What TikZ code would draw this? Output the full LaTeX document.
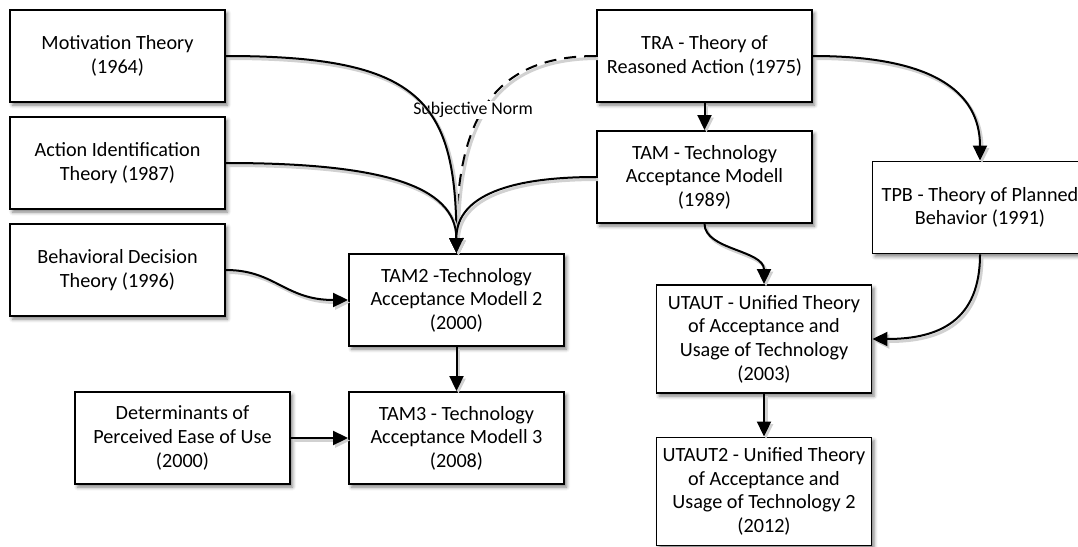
\documentclass[tikz,border=0pt]{standalone}
\usepackage{fontspec}
\setmainfont{Carlito}
\usetikzlibrary{arrows.meta,shadows.blur}
\begin{document}
\begin{tikzpicture}[x=1pt,y=-1pt,
  box/.style={draw=black, line width=1.9pt, fill=white,
    minimum width=215pt, minimum height=92pt, align=center, inner sep=2pt,
    font=\fontsize{20.2pt}{23.6pt}\selectfont,
    blur shadow={shadow xshift=2.5pt, shadow yshift=-3pt,
      shadow blur radius=3.5pt, shadow opacity=50}},
  tall/.style={minimum height=108pt},
  conn/.style={line width=2pt, -{Triangle[length=15pt,width=14pt]},
    preaction={draw=black!18, line width=3pt,
      transform canvas={shift={(2pt,-2.5pt)}}}},
  lbl/.style={fill=white, inner sep=1pt, font=\fontsize{17.8pt}{20pt}\selectfont},
]
\useasboundingbox (0,0) rectangle (1078,546);

% left column
\node[box] (mot) at (117.5,56)  {Motivation Theory\\(1964)};
\node[box] (aid) at (117.5,163) {Action Identification\\Theory (1987)};
\node[box] (bdt) at (117.5,270) {Behavioral Decision\\Theory (1996)};
\node[box] (det) at (182.5,438) {Determinants of\\Perceived Ease of Use\\(2000)};

% TAM2 / TAM3
\node[box] (tam2) at (456.5,300) {TAM2 -Technology\\Acceptance Modell 2\\(2000)};
\node[box] (tam3) at (456.5,438) {TAM3 - Technology\\Acceptance Modell 3\\(2008)};

% right part
\node[box] (tra) at (704.5,56)  {TRA - Theory of\\Reasoned Action (1975)};
\node[box] (tam) at (704.5,177) {TAM - Technology\\Acceptance Modell\\(1989)};
\node[box] (tpb) at (980,207.5) {TPB - Theory of Planned\\Behavior (1991)};
\node[box,tall] (utaut)  at (764,339)   {UTAUT - Unified Theory\\of Acceptance and\\Usage of Technology\\(2003)};
\node[box,tall] (utaut2) at (764,491.5) {UTAUT2 - Unified Theory\\of Acceptance and\\Usage of Technology 2\\(2012)};

% subjective norm link
\draw[conn, dash pattern=on 12pt off 8pt] (tra.west) .. controls (500,56) and (456,110) .. (tam2.north);
\node[lbl] (sn) at (473,110) {Subjective Norm};

% influences on TAM2
\draw[conn] (mot.east) .. controls (420,56) and (456,100) .. (tam2.north);
\draw[conn] (aid.east) .. controls (380,163) and (456,185) .. (tam2.north);
\draw[conn] (tam.west) .. controls (500,177) and (456,200) .. (tam2.north);
\draw[conn] (bdt.east) .. controls (275,270) and (285,300) .. (tam2.west);
\draw[conn] (tam2.south) -- (tam3.north);
\draw[conn] (det.east) -- (tam3.west);

% TRA line
\draw[conn] (tra.south) -- (tam.north);
\draw[conn] (tra.east) .. controls (930,56) and (980,90) .. (tpb.north);
\draw[conn] (tam.south) .. controls (705,250) and (764,250) .. (utaut.north);
\draw[conn] (tpb.south) .. controls (980,320) and (940,339) .. (utaut.east);
\draw[conn] (utaut.south) -- (utaut2.north);
\end{tikzpicture}
\end{document}
